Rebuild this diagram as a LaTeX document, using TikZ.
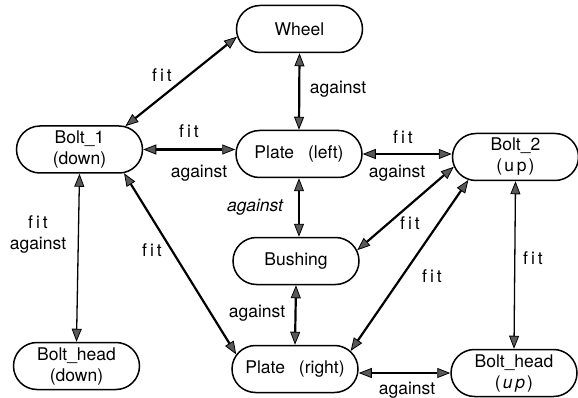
\documentclass[tikz,border=0pt]{standalone}
\usepackage{fontspec}
\setmainfont{TeX Gyre Heros}
\usetikzlibrary{arrows.meta,shapes.misc}
\newcommand\fitword{f\kern3pt i\kern3pt t}
\begin{document}
\begin{tikzpicture}[x=1pt,y=-1pt,
  part/.style={draw, line width=1.5pt, rounded rectangle, minimum width=126pt,
    minimum height=47pt, inner sep=0pt, align=center,
    font=\fontsize{17.5}{21}\selectfont},
  ptip/.tip={Triangle[length=13pt,width=10pt,fill=black!65,line width=0.8pt]},
  link/.style={line width=2.2pt, ptip-ptip},
  thinlink/.style={line width=1.3pt, ptip-ptip},
  lbl/.style={inner sep=0pt, font=\fontsize{17.5}{21}\selectfont}]
\useasboundingbox (0,0) rectangle (578,398);
% parts
\node[part] (w)   at (299.5,29)  {Wheel};
\node[part] (b1)  at (79.5,149.5) {Bolt\_1\\(down)};
\node[part] (pl)  at (299,154)   {Plate\hspace{14pt}(left)};
\node[part] (b2)  at (515.5,157) {Bolt\_2\\(\kern2pt u\kern3pt p\kern2pt)};
\node[part] (bu)  at (296,261)   {Bushing};
\node[part] (pr)  at (295,369)   {Plate\hspace{14pt}(right)};
\node[part] (bhd) at (76.5,366)  {Bolt\_head\\(down)};
\node[part] (bhu) at (514,373)   {Bolt\_head\\(\kern2pt{\itshape u\kern3pt p}\kern2pt)};
% relations
\draw[link] (b1.27) -- (w.187);
\draw[link] (b1.east) -- (b1.east -| pl.west);
\draw[link] (w.south) -- (pl.north);
\draw[link] (pl.east) -- (pl.east -| b2.west);
\draw[link] (pl.south) -- (pl.south |- bu.north);
\draw[link] (b2.189) -- (bu.10);
\draw[link] (b2.206) -- (pr.18);
\draw[thinlink] (b2.south) -- (bhu.north);
\draw[link] (bu.south) -- (pr.north);
\draw[link] (bhu.west -| pr.east) -- (bhu.west);
\draw[thinlink] (b1.south) -- (bhd.north);
\draw[link] (b1.332) -- (pr.166);
% relation labels
\node[lbl] (l1)  at (162,75)  {\fitword};
\node[lbl] (l2)  at (189,131) {\fitword};
\node[lbl] (l3)  at (199,173) {against};
\node[lbl] (l4)  at (338,89)  {against};
\node[lbl] (l5)  at (403,137) {\fitword};
\node[lbl] (l6)  at (397,173) {against};
\node[lbl] (l7)  at (255,207) {\itshape against};
\node[lbl] (l8)  at (410,223) {\fitword};
\node[lbl] (l9)  at (432,276) {\fitword};
\node[lbl] (l10) at (533,258) {\fitword};
\node[lbl] (l11) at (257,313) {against};
\node[lbl] (l12) at (407,390) {against};
\node[lbl] (l13) at (38,222)  {\fitword};
\node[lbl] (l14) at (38,245)  {against};
\node[lbl] (l15) at (152,250) {\fitword};
\end{tikzpicture}
\end{document}
